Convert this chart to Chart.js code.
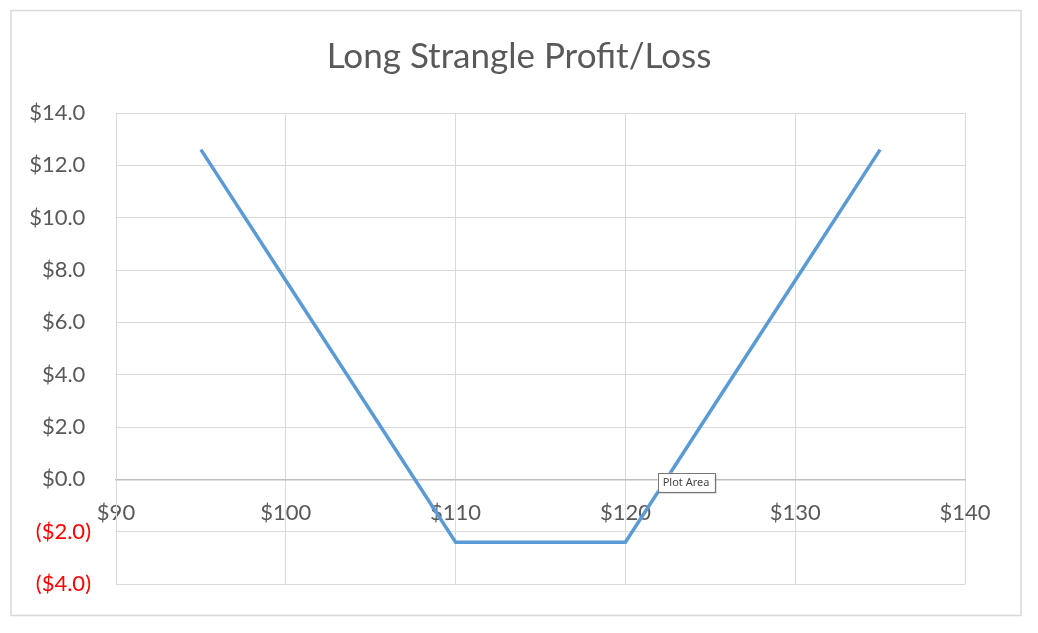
<!DOCTYPE html>
<html>
<head>
<meta charset="utf-8">
<script src="https://cdn.jsdelivr.net/npm/chart.js@4.4.1/dist/chart.umd.min.js"></script>
<style>
  html, body { margin: 0; padding: 0; background: #ffffff; }
  #wrap { width: 1038px; height: 633px; position: relative; }
</style>
</head>
<body>
<div id="wrap"><canvas id="c" width="1038" height="633"></canvas></div>
<script>
// ---- data ----
const titleText = 'Long Strangle Profit/Loss';
const stockPrices = [95, 100, 105, 110, 115, 120, 125, 130, 135];
const profitLoss  = [12.6, 7.6, 2.6, -2.4, -2.4, -2.4, 2.6, 7.6, 12.6];
const xMin = 90, xMax = 140, xStep = 10;
const yMin = -4, yMax = 14, yStep = 2;
const hoverLabel = 'Plot Area';
const hoverAnchor = { x: 121.9, y: 0.25 };

const textGray = '#595959';
const gridGray = '#d9d9d9';

function fmtY(v) {
  const s = '$' + Math.abs(v).toFixed(1);
  return v < 0 ? '(' + s + ')' : s + ' ';
}

const frame = {
  id: 'frame',
  beforeDraw(chart) {
    const ctx = chart.ctx;
    ctx.save();
    ctx.fillStyle = '#ffffff';
    ctx.fillRect(0, 0, chart.width, chart.height);
    ctx.strokeStyle = gridGray;
    ctx.lineWidth = 1.5;
    ctx.strokeRect(11, 10.5, 1010, 605);
    ctx.fillStyle = textGray;
    ctx.font = '35px Lato';
    ctx.textAlign = 'center';
    ctx.textBaseline = 'middle';
    ctx.fillText(titleText, chart.width / 2, 57);
    ctx.restore();
  }
};

const hoverTip = {
  id: 'hoverTip',
  afterDraw(chart) {
    const ctx = chart.ctx;
    const x = chart.scales.x.getPixelForValue(hoverAnchor.x);
    const y = chart.scales.y.getPixelForValue(hoverAnchor.y);
    ctx.save();
    ctx.font = '11px "Noto Sans", sans-serif';
    const w = Math.ceil(ctx.measureText(hoverLabel).width) + 10;
    const h = 19;
    ctx.fillStyle = 'rgba(0,0,0,0.18)';
    ctx.fillRect(x + 2, y + 2, w, h);
    ctx.fillStyle = '#ffffff';
    ctx.fillRect(x, y, w, h);
    ctx.strokeStyle = '#767676';
    ctx.lineWidth = 1;
    ctx.strokeRect(Math.round(x) + 0.5, Math.round(y) + 0.5, w, h);
    ctx.fillStyle = '#444444';
    ctx.textBaseline = 'middle';
    ctx.fillText(hoverLabel, x + 5, y + h / 2 + 1);
    ctx.restore();
  }
};

new Chart(document.getElementById('c'), {
  type: 'line',
  data: {
    datasets: [{
      data: stockPrices.map((p, i) => ({ x: p, y: profitLoss[i] })),
      borderColor: '#5b9bd5',
      borderWidth: 3.5,
      pointRadius: 0,
      pointHoverRadius: 0,
      tension: 0,
      fill: false
    }]
  },
  options: {
    responsive: false,
    maintainAspectRatio: false,
    animation: false,
    devicePixelRatio: 1,
    events: [],
    layout: { padding: { left: 10, right: 73, top: 113, bottom: 49 } },
    plugins: {
      legend: { display: false },
      tooltip: { enabled: false },
      title: { display: false }
    },
    scales: {
      x: {
        type: 'linear',
        position: { y: 0 },
        min: xMin, max: xMax,
        ticks: {
          stepSize: xStep,
          color: textGray,
          padding: 20,
          maxRotation: 0,
          font: { family: 'Lato', size: 22 },
          callback: v => '$' + v
        },
        grid: { color: gridGray, lineWidth: 1, drawTicks: false },
        border: { color: '#bfbfbf', width: 1.5 }
      },
      y: {
        type: 'linear',
        position: 'left',
        min: yMin, max: yMax,
        afterFit(scale) { scale.width = 106; },
        ticks: {
          stepSize: yStep,
          padding: 25,
          font: { family: 'Lato', size: 22 },
          color: ctx => (ctx.tick && ctx.tick.value < 0) ? '#ff0000' : textGray,
          callback: v => fmtY(v)
        },
        grid: { color: gridGray, lineWidth: 1, drawTicks: false },
        border: { color: gridGray, width: 1 }
      }
    }
  },
  plugins: [frame, hoverTip]
});
</script>
</body>
</html>
